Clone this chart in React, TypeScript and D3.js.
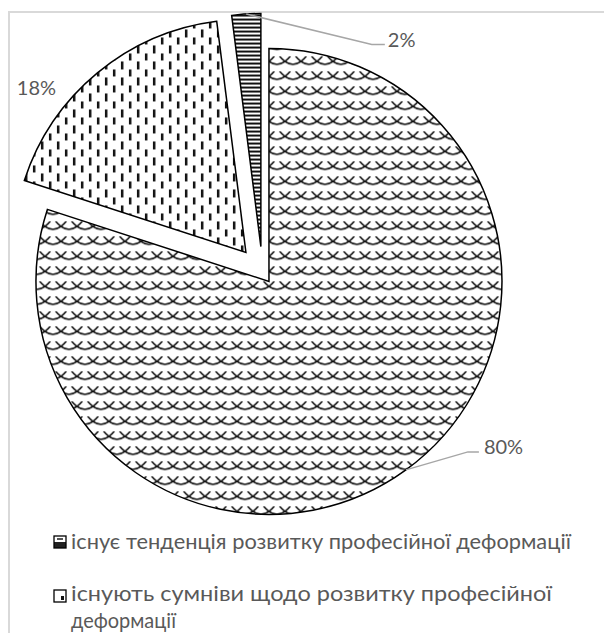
import React from 'react';
import * as d3 from 'd3';

// ---- data ----
const categories = [
  'існує тенденція розвитку професійної деформації',
  'існують сумніви щодо розвитку професійної деформації',
];
const values = [80, 18, 2];
const valueLabels = ['80%', '18%', '2%'];
const legendLines = [
  ['існує тенденція розвитку професійної деформації'],
  ['існують сумніви щодо розвитку професійної', 'деформації'],
];

// ---- layout ----
const W = 604;
const H = 633;
const CX = 262.5;
const CY = 272.5;
const R = 233;
const EXPLODE = [11, 26, 26];
const PATTERNS = ['scales', 'vdash', 'hstripe'];
const LABEL_CFG = [
  { leader: [62, -18], tail: 11, tx: 5, ty: 2, anchor: 'start' },
  { leader: null, tail: 0, tx: -61, ty: 22, anchor: 'middle' },
  { leader: [125.6, 30.5], tail: 13, tx: 3, ty: 2, anchor: 'start' },
];
const LEGEND_POS = [
  { marker: 536, base: [549], widths: [500] },
  { marker: 590, base: [601, 628], widths: [481, 105] },
];
const TEXT_COLOR = '#595959';
const FONT = "Lato, 'Open Sans', 'Noto Sans', sans-serif";

export default function App() {
  const pie = d3
    .pie<number>()
    .sort(null)
    .value((d) => d)
    .startAngle(0)
    .endAngle(Math.PI * 2);
  const arcs = pie(values);
  const arcGen = d3.arc<d3.PieArcDatum<number>>().innerRadius(0).outerRadius(R);

  const slices = arcs.map((a, i) => {
    const mid = (a.startAngle + a.endAngle) / 2;
    const ox = CX + Math.sin(mid) * EXPLODE[i];
    const oy = CY - Math.cos(mid) * EXPLODE[i];
    const mx = ox + Math.sin(mid) * R;
    const my = oy - Math.cos(mid) * R;
    return { a, i, ox, oy, mx, my };
  });

  return (
    <svg
      width={W}
      height={H}
      viewBox={`0 0 ${W} ${H}`}
      style={{ position: 'absolute', left: 0, top: 0, background: '#fff' }}
    >
      <defs>
        <pattern id="scales" width={16} height={15} patternUnits="userSpaceOnUse">
          <rect width={16} height={15} fill="#fff" />
          {[-16, 0, 16].map((k) => (
            <path
              key={k}
              d={`M${k - 6},-1 Q${k + 8},17 ${k + 22},-1`}
              fill="none"
              stroke="#111"
              strokeWidth={1.6}
            />
          ))}
        </pattern>
        <pattern id="vdash" width={16} height={16} patternUnits="userSpaceOnUse">
          <rect width={16} height={16} fill="#fff" />
          <rect x={3} y={1} width={2.5} height={8} fill="#111" />
          <rect x={11} y={9} width={2.5} height={8} fill="#111" />
        </pattern>
        <pattern id="hstripe" width={8} height={4} patternUnits="userSpaceOnUse">
          <rect width={8} height={4} fill="#fff" />
          <rect y={0} width={8} height={2} fill="#111" />
        </pattern>
        <pattern id="scales-s" width={12} height={12} patternUnits="userSpaceOnUse" x={54} y={536}>
          <rect width={12} height={12} fill="#fff" />
          <rect x={0} y={6} width={12} height={6} fill="#222" />
          <rect x={3} y={2} width={6} height={2} fill="#555" />
        </pattern>
        <pattern id="vdash-s" width={12} height={12} patternUnits="userSpaceOnUse" x={54} y={590}>
          <rect width={12} height={12} fill="#fff" />
          <rect x={7} y={6} width={3} height={4} fill="#111" />
        </pattern>
      </defs>

      <rect x={0} y={0} width={W} height={H} fill="#fff" />
      <rect x={9} y={12} width={800} height={800} fill="none" stroke="#d9d9d9" strokeWidth={2} />

      {slices.map(({ a, i, ox, oy }) => (
        <path
          key={i}
          d={arcGen(a) || ''}
          transform={`translate(${ox},${oy})`}
          fill={`url(#${PATTERNS[i]})`}
          stroke="#000"
          strokeWidth={1.5}
          strokeLinejoin="miter"
        />
      ))}

      {slices.map(({ i, mx, my }) => {
        const cfg = LABEL_CFG[i];
        if (cfg.leader) {
          const ex = mx + cfg.leader[0];
          const ey = my + cfg.leader[1];
          const tx = ex + cfg.tail;
          return (
            <g key={i}>
              <polyline
                points={`${mx},${my} ${ex},${ey} ${tx},${ey}`}
                fill="none"
                stroke="#a6a6a6"
                strokeWidth={1.5}
              />
              <text
                x={tx + cfg.tx}
                y={ey + cfg.ty}
                fontFamily={FONT}
                fontSize={20}
                fill={TEXT_COLOR}
                textAnchor={cfg.anchor as any}
              >
                {valueLabels[i]}
              </text>
            </g>
          );
        }
        return (
          <text
            key={i}
            x={mx + cfg.tx}
            y={my + cfg.ty}
            fontFamily={FONT}
            fontSize={20}
            fill={TEXT_COLOR}
            textAnchor={cfg.anchor as any}
          >
            {valueLabels[i]}
          </text>
        );
      })}

      {categories.map((c, i) => (
        <g key={c}>
          <rect
            x={54}
            y={LEGEND_POS[i].marker}
            width={12}
            height={12}
            fill={`url(#${PATTERNS[i]}-s)`}
            stroke="#000"
            strokeWidth={1.3}
          />
          {legendLines[i].map((line, j) => (
            <text
              key={j}
              x={71}
              y={LEGEND_POS[i].base[j]}
              fontFamily={FONT}
              fontSize={21}
              fill={TEXT_COLOR}
              textLength={LEGEND_POS[i].widths[j]}
              lengthAdjust="spacingAndGlyphs"
            >
              {line}
            </text>
          ))}
        </g>
      ))}
    </svg>
  );
}
